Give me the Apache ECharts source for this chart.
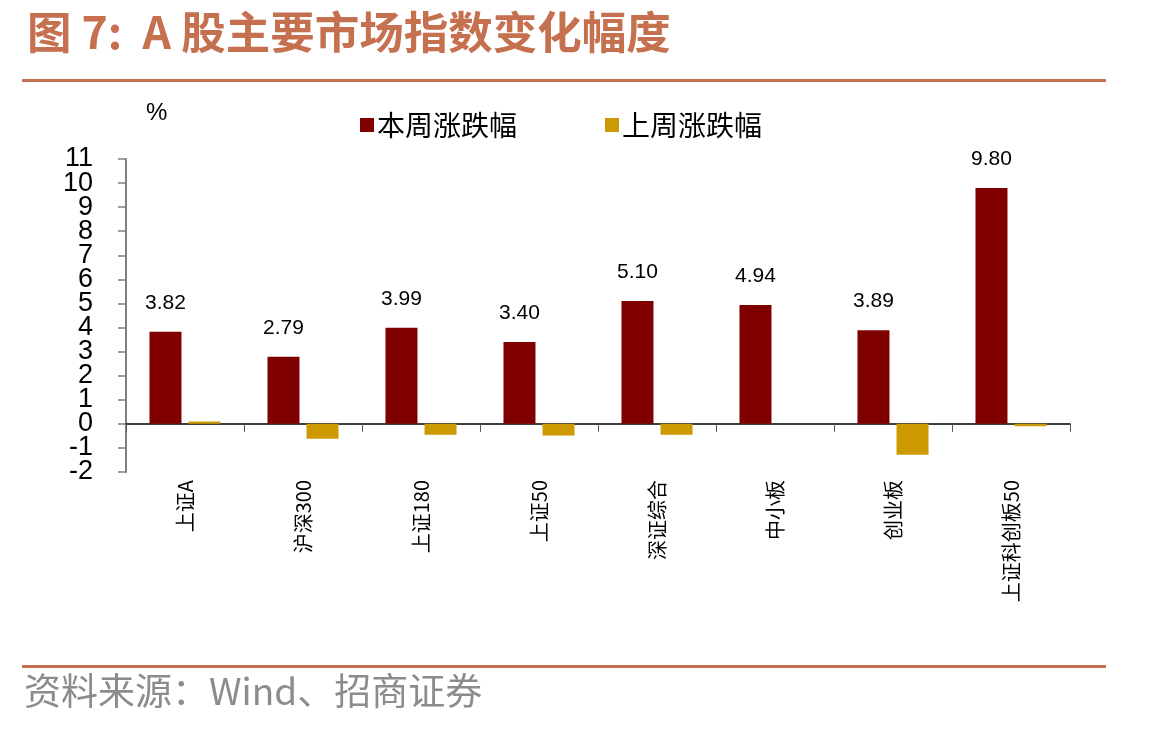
<!DOCTYPE html>
<html>
<head>
<meta charset="utf-8">
<script src="https://cdn.jsdelivr.net/npm/echarts@6/dist/echarts.min.js"></script>
<style>
  html, body { margin: 0; padding: 0; background: #fff; }
  #chart { width: 1156px; height: 729px; }
</style>
</head>
<body>
<div id="chart"></div>
<script>
// 图7 A股主要市场指数变化幅度（%）
const indexNames = ['上证A', '沪深300', '上证180', '上证50', '深证综合', '中小板', '创业板', '上证科创板50'];
const thisWeek = [3.82, 2.79, 3.99, 3.40, 5.10, 4.94, 3.89, 9.80];
const lastWeek = [0.10, -0.62, -0.45, -0.48, -0.45, 0.00, -1.28, -0.10];
const seriesNames = ['本周涨跌幅', '上周涨跌幅'];
// 纵轴刻度标签 -2 … 11（原图每个整数都标注）
const yTickLabels = ['-2', '-1', '0', '1', '2', '3', '4', '5', '6', '7', '8', '9', '10', '11'];

const ACCENT = '#C5704F';
const CJK = '"Noto Sans CJK SC", "DejaVu Sans", sans-serif';
const LATIN = 'Arial, "Liberation Sans", sans-serif';

const chart = echarts.init(document.getElementById('chart'));

chart.setOption({
  animation: false,
  title: {
    text: '图 7:  A 股主要市场指数变化幅度',
    left: 22, top: 5,
    textStyle: { color: ACCENT, fontSize: 44.5, fontWeight: 'bold', fontFamily: CJK }
  },
  legend: {
    data: seriesNames,
    left: 355, top: 106,
    itemWidth: 14, itemHeight: 14, itemGap: 88,
    icon: 'rect',
    textStyle: { fontSize: 28, color: '#000', fontFamily: CJK, padding: [0, 0, 0, -2] }
  },
  grid: { left: 126, right: 86, top: 159, bottom: 257 },
  xAxis: {
    type: 'category',
    data: indexNames,
    axisLine: { onZero: true, onZeroAxisIndex: 0, lineStyle: { color: '#000', width: 1.5 } },
    axisTick: { show: true, length: 8, lineStyle: { color: '#555' } },
    axisLabel: {
      rotate: 90, margin: 8, interval: 0,
      fontSize: 20, color: '#000', fontFamily: CJK
    }
  },
  yAxis: [
    {
      type: 'value',
      min: -2, max: 11, interval: 1,
      name: '%',
      nameLocation: 'end',
      nameGap: 34,
      nameTextStyle: { fontSize: 24, color: '#000', fontFamily: LATIN, align: 'left', padding: [0, 0, 0, 20] },
      splitLine: { show: false },
      axisLine: { show: true, lineStyle: { color: '#808080', width: 2 } },
      axisTick: { show: true, length: 8, lineStyle: { color: '#808080', width: 1.5 } },
      axisLabel: { show: false }
    },
    {
      // 仅用于显示全部整数刻度标签（数值轴会自动隐藏重叠的首尾标签）
      type: 'category',
      data: yTickLabels,
      boundaryGap: false,
      position: 'left',
      axisLine: { show: false },
      axisTick: { show: false },
      splitLine: { show: false },
      axisLabel: { interval: 0, margin: 33, fontSize: 27, color: '#000', fontFamily: LATIN }
    }
  ],
  series: [
    {
      name: seriesNames[0], type: 'bar', data: thisWeek, yAxisIndex: 0,
      barWidth: 32, barGap: '22%',
      itemStyle: { color: '#800000' },
      label: {
        show: true, position: 'top', distance: 18,
        fontSize: 21, color: '#000', fontFamily: LATIN,
        formatter: p => p.value.toFixed(2)
      }
    },
    {
      name: seriesNames[1], type: 'bar', data: lastWeek, yAxisIndex: 0,
      barWidth: 32,
      itemStyle: { color: '#CC9900' }
    }
  ],
  graphic: [
    { type: 'rect', shape: { x: 22, y: 79, width: 1084, height: 3 }, style: { fill: ACCENT } },
    { type: 'rect', shape: { x: 22, y: 665, width: 1084, height: 3 }, style: { fill: ACCENT } },
    {
      type: 'text', left: 24, top: 672,
      style: { text: '资料来源：Wind、招商证券', fill: '#8C8C8C', fontSize: 37, fontFamily: CJK }
    }
  ]
});

window.addEventListener('resize', () => chart.resize());
</script>
</body>
</html>
